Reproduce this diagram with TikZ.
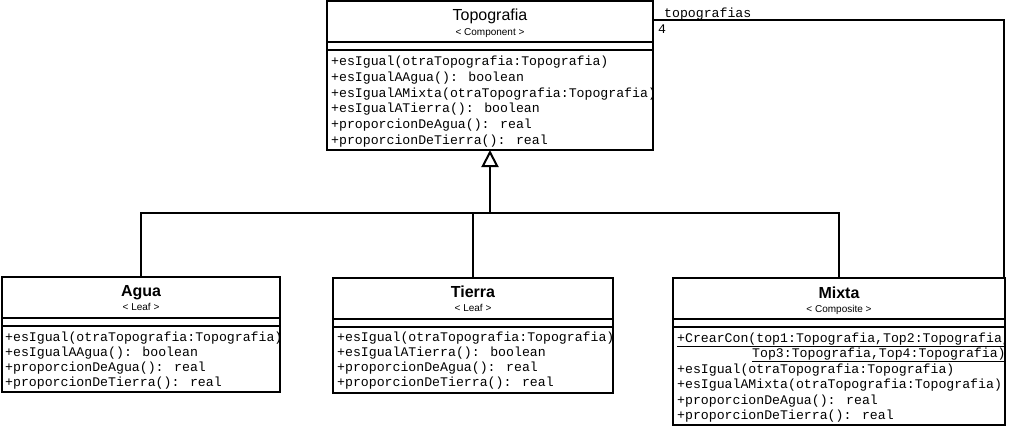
\documentclass[tikz,border=0pt]{standalone}
\usepackage{fontspec}
\setmainfont{Liberation Sans}
\newfontfamily\monof{Liberation Mono}
\usetikzlibrary{arrows.meta}
\tikzset{
  umlbox/.style={draw=black, line width=2pt, fill=white, anchor=north west, inner sep=0pt, outer sep=0pt},
  sep/.style={line width=2pt},
  meth/.style={anchor=base west, inner sep=0pt, font=\monof\fontsize{13.2}{15}\selectfont},
  ttl/.style={anchor=base, inner sep=0pt, font=\fontsize{16}{18}\selectfont},
  ttlb/.style={anchor=base, inner sep=0pt, font=\bfseries\fontsize{16}{18}\selectfont},
  stereo/.style={anchor=base, inner sep=0pt, font=\fontsize{10}{12}\selectfont},
  conn/.style={line width=1.7pt},
  lbl/.style={anchor=base west, inner sep=0pt, font=\monof\fontsize{13.2}{15}\selectfont},
}
\begin{document}
\begin{tikzpicture}[x=1pt,y=-1pt]
\useasboundingbox (0,0) rectangle (1010,428);
% ---------- Topografia ----------
\node[umlbox, minimum width=326pt, minimum height=149pt] (topo) at (327,1) {};
\draw[sep] (327,42) -- (653,42);
\draw[sep] (327,50) -- (653,50);
\node[ttl] (topoT) at (490,20.5) {Topografia};
\node[stereo] (topoS) at (490,36) {< Component >};
\begin{scope}
\clip (328,51) rectangle (652,149);
\node[meth] (t1) at (331,66) {+esIgual(otraTopografia:Topografia)};
\node[meth] (t2) at (331,81.6) {+esIgualAAgua(): boolean};
\node[meth] (t3) at (331,97.2) {+esIgualAMixta(otraTopografia:Topografia)};
\node[meth] (t4) at (331,112.8) {+esIgualATierra(): boolean};
\node[meth] (t5) at (331,128.4) {+proporcionDeAgua(): real};
\node[meth] (t6) at (331,144) {+proporcionDeTierra(): real};
\end{scope}
% ---------- Agua ----------
\node[umlbox, minimum width=278pt, minimum height=115pt] (agua) at (2,277) {};
\draw[sep] (2,318) -- (280,318);
\draw[sep] (2,326) -- (280,326);
\node[ttlb] (aguaT) at (141,296.5) {Agua};
\node[stereo] (aguaS) at (141,310) {< Leaf >};
\begin{scope}
\clip (3,327) rectangle (279,391);
\node[meth] (a1) at (5,341) {+esIgual(otraTopografia:Topografia)};
\node[meth] (a2) at (5,356.3) {+esIgualAAgua(): boolean};
\node[meth] (a3) at (5,371.6) {+proporcionDeAgua(): real};
\node[meth] (a4) at (5,386.9) {+proporcionDeTierra(): real};
\end{scope}
% ---------- Tierra ----------
\node[umlbox, minimum width=280pt, minimum height=115pt] (tierra) at (333,278) {};
\draw[sep] (333,319) -- (613,319);
\draw[sep] (333,327) -- (613,327);
\node[ttlb] (tierraT) at (473,297.5) {Tierra};
\node[stereo] (tierraS) at (473,311) {< Leaf >};
\begin{scope}
\clip (334,328) rectangle (612,392);
\node[meth] (ti1) at (337,341) {+esIgual(otraTopografia:Topografia)};
\node[meth] (ti2) at (337,356.3) {+esIgualATierra(): boolean};
\node[meth] (ti3) at (337,371.6) {+proporcionDeAgua(): real};
\node[meth] (ti4) at (337,386.9) {+proporcionDeTierra(): real};
\end{scope}
% ---------- Mixta ----------
\node[umlbox, minimum width=332pt, minimum height=147pt] (mixta) at (673,278) {};
\draw[sep] (673,319) -- (1005,319);
\draw[sep] (673,327) -- (1005,327);
\node[ttlb] (mixtaT) at (839,298) {Mixta};
\node[stereo] (mixtaS) at (839,312) {< Composite >};
\begin{scope}
\clip (674,328) rectangle (1004,424);
\node[meth] (m1) at (677,342) {\underline{+CrearCon(top1:Topografia,Top2:Topografia,}};
\node[meth] (m2) at (752,357.5) {\underline{Top3:Topografia,Top4:Topografia)}};
\node[meth] (m3) at (677,373) {+esIgual(otraTopografia:Topografia)};
\node[meth] (m4) at (677,388.5) {+esIgualAMixta(otraTopografia:Topografia)};
\node[meth] (m5) at (677,404) {+proporcionDeAgua(): real};
\node[meth] (m6) at (677,419.5) {+proporcionDeTierra(): real};
\end{scope}
% ---------- generalization ----------
\coordinate (j) at (490,213);
\draw[conn] (agua.north) -- (agua.north |- j) -- (mixta.north |- j) -- (mixta.north);
\draw[conn] (tierra.north) -- (tierra.north |- j);
\draw[line width=2.2pt, -{Triangle[open, width=17pt, length=17pt, line width=2pt]}] (j) -- (topo.south);
% ---------- association ----------
\coordinate (bend) at (1004,20);
\draw[conn] (topo.east |- bend) -- (bend) -- (bend |- mixta.north);
\node[lbl] (role) at (664,18) {topografias};
\node[lbl] (mult) at (658,34) {4};
\end{tikzpicture}
\end{document}
